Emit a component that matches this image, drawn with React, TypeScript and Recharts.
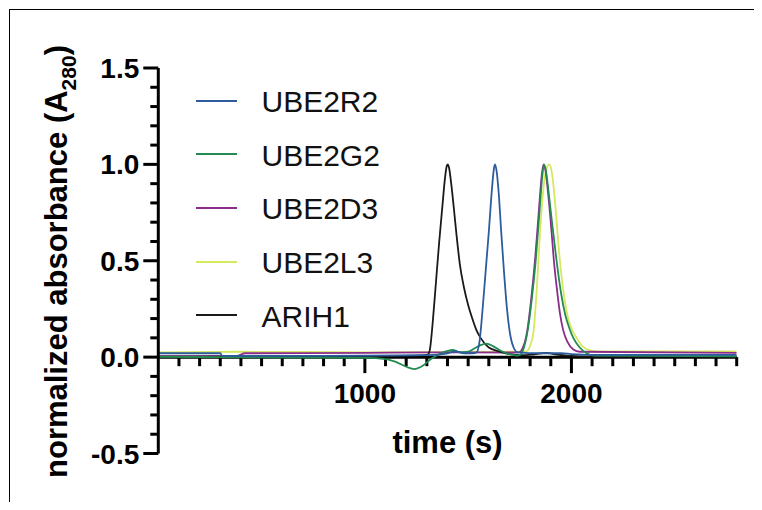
import React from "react";
import { LineChart, Line, XAxis, YAxis, ReferenceLine, Legend } from "recharts";

// time (s), normalized absorbance (A280)
const ube2r2: [number, number][] = [
  [0, 0.02], [300, 0.02], [310, 0.006], [600, 0.006], [1000, 0.008], [1300, 0.01],
  [1400, 0.02], [1440, 0.03], [1480, 0.02], [1520, 0.02], [1541, 0.025], [1555, 0.08],
  [1570, 0.25], [1585, 0.45], [1600, 0.65], [1615, 0.87], [1625, 0.98], [1630, 1.0],
  [1637, 0.97], [1648, 0.85], [1660, 0.65], [1673, 0.45], [1688, 0.25], [1703, 0.12],
  [1720, 0.05], [1740, 0.025], [1850, 0.02], [1950, 0.02], [2000, 0.016], [2100, 0.012],
  [2800, 0.012],
];

const ube2g2: [number, number][] = [
  [0, 0.002], [1000, -0.004], [1100, -0.01], [1150, -0.025], [1200, -0.05], [1240, -0.062],
  [1280, -0.045], [1320, -0.01], [1360, 0.015], [1400, 0.032], [1425, 0.037], [1460, 0.025],
  [1500, 0.028], [1530, 0.045], [1560, 0.062], [1590, 0.07], [1620, 0.057], [1660, 0.032],
  [1700, 0.015], [1735, 0.008], [1751, 0.012], [1770, 0.05], [1790, 0.15], [1810, 0.32],
  [1827, 0.5], [1845, 0.75], [1858, 0.93], [1867, 1.0], [1876, 0.97], [1890, 0.85],
  [1908, 0.68], [1928, 0.5], [1950, 0.33], [1970, 0.22], [1990, 0.15], [2009, 0.1],
  [2040, 0.05], [2074, 0.02], [2110, 0.008], [2800, 0.004],
];

const ube2d3: [number, number][] = [
  [0, 0.005], [380, 0.006], [420, 0.02], [1000, 0.022], [1300, 0.025], [1500, 0.025],
  [1700, 0.024], [1745, 0.025], [1765, 0.05], [1785, 0.13], [1805, 0.3], [1825, 0.52],
  [1843, 0.77], [1856, 0.94], [1865, 1.0], [1874, 0.97], [1888, 0.84], [1903, 0.66],
  [1915, 0.5], [1930, 0.35], [1944, 0.23], [1960, 0.14], [1980, 0.08], [2009, 0.04],
  [2040, 0.028], [2800, 0.022],
];

const ube2l3: [number, number][] = [
  [0, 0.025], [400, 0.028], [1000, 0.025], [1500, 0.026], [1783, 0.03], [1800, 0.06],
  [1816, 0.13], [1832, 0.35], [1848, 0.65], [1865, 0.88], [1880, 0.98], [1893, 1.0],
  [1903, 0.97], [1915, 0.87], [1930, 0.68], [1944, 0.5], [1960, 0.35], [1980, 0.22],
  [2000, 0.15], [2025, 0.1], [2050, 0.06], [2090, 0.035], [2130, 0.03], [2800, 0.03],
];

const arih1: [number, number][] = [
  [0, 0.002], [1000, 0.004], [1250, 0.008], [1300, 0.012], [1307, 0.015], [1315, 0.04],
  [1330, 0.2], [1345, 0.4], [1360, 0.6], [1375, 0.78], [1388, 0.93], [1396, 0.99],
  [1401, 1.0], [1408, 0.98], [1418, 0.9], [1430, 0.78], [1445, 0.62], [1460, 0.48],
  [1480, 0.36], [1500, 0.27], [1520, 0.2], [1540, 0.14], [1560, 0.1], [1600, 0.05],
  [1650, 0.03], [1700, 0.015], [1760, 0.01], [1820, 0.015], [1880, 0.022], [1920, 0.015],
  [1980, 0.008], [2100, 0.003], [2800, 0.003],
];

const yTicks = [
  -0.5, -0.4, -0.3, -0.2, -0.1, 0, 0.1, 0.2, 0.3, 0.4, 0.5,
  0.6, 0.7, 0.8, 0.9, 1.0, 1.1, 1.2, 1.3, 1.4, 1.5,
];
const xMinorTicks = [
  100, 200, 300, 400, 500, 600, 700, 800, 900, 1100, 1200, 1300, 1400,
  1500, 1600, 1700, 1800, 1900, 2100, 2200, 2300, 2400, 2500, 2600, 2700, 2800,
];
const xMajorTicks = [1000, 2000];

const series = [
  { name: "UBE2R2", points: ube2r2, color: "#2c5c9e" },
  { name: "UBE2G2", points: ube2g2, color: "#238a52" },
  { name: "UBE2D3", points: ube2d3, color: "#8b2c8c" },
  { name: "UBE2L3", points: ube2l3, color: "#d6e85e" },
  { name: "ARIH1", points: arih1, color: "#1a1a1a" },
];
// drawing order (last on top)
const drawOrder = ["UBE2L3", "UBE2D3", "ARIH1", "UBE2G2", "UBE2R2"];

const FONT = '"Liberation Sans", Arial, Helvetica, sans-serif';

function YTick(props: any) {
  const { x, y, payload } = props;
  const v = payload.value as number;
  const major = Math.abs(v * 2 - Math.round(v * 2)) < 1e-6;
  const len = major ? 15 : 8;
  return (
    <g>
      <line x1={x - len} x2={x} y1={y} y2={y} stroke="#000" strokeWidth={3} />
      {major && (
        <text
          x={x - 19}
          y={y}
          dy="0.36em"
          textAnchor="end"
          fontSize={28}
          fontWeight="bold"
          fill="#000"
          fontFamily={FONT}
        >
          {v.toFixed(1)}
        </text>
      )}
    </g>
  );
}

function renderLegend() {
  return (
    <div style={{ fontFamily: FONT }}>
      {series.map((s) => (
        <div key={s.name} style={{ display: "flex", alignItems: "center", height: 53.6 }}>
          <svg width={41} height={4} style={{ marginRight: 24.5 }}>
            <line x1={0} x2={41} y1={2} y2={2} stroke={s.color} strokeWidth={2} />
          </svg>
          <span style={{ fontSize: 30, lineHeight: 1, color: "#111", paddingTop: 3 }}>{s.name}</span>
        </div>
      ))}
    </div>
  );
}

export default function App() {
  const byName = Object.fromEntries(series.map((s) => [s.name, s]));
  return (
    <div style={{ position: "relative", width: 754, height: 494 }}>
      <div
        style={{
          position: "absolute",
          left: 1,
          top: 1,
          width: 753,
          height: 501,
          borderTop: "1px solid #000",
          borderLeft: "1px solid #000",
          boxSizing: "border-box",
        }}
      />
      <div style={{ position: "absolute", left: -8, top: -8 }}>
        <LineChart
          width={762}
          height={510}
          margin={{ top: 68, right: 25.3, bottom: 56.5, left: 98.3 }}
          style={{ fontFamily: FONT }}
        >
          <XAxis type="number" dataKey="t" domain={[0, 2800]} hide allowDataOverflow />
          <YAxis
            type="number"
            domain={[-0.5, 1.5]}
            ticks={yTicks}
            interval={0}
            width={60}
            tickSize={0}
            tickMargin={0}
            tickLine={false}
            tick={<YTick />}
            axisLine={{ stroke: "#000", strokeWidth: 3 }}
            allowDataOverflow
          />
          <ReferenceLine y={0} stroke="#000" strokeWidth={3} />
          {xMinorTicks.map((t) => (
            <ReferenceLine
              key={t}
              segment={[{ x: t, y: 0 }, { x: t, y: -0.047 }]}
              stroke="#000"
              strokeWidth={3}
            />
          ))}
          {xMajorTicks.map((t) => (
            <ReferenceLine
              key={t}
              segment={[{ x: t, y: 0 }, { x: t, y: -0.083 }]}
              stroke="#000"
              strokeWidth={3}
              label={(p: any) => {
                const vb = p.viewBox || {};
                return (
                  <text
                    x={vb.x + (vb.width || 0) / 2}
                    y={vb.y + (vb.height || 0) + 30}
                    textAnchor="middle"
                    fontSize={28}
                    fontWeight="bold"
                    fill="#000"
                    fontFamily={FONT}
                  >
                    {t}
                  </text>
                );
              }}
            />
          ))}
          {drawOrder.map((n) => {
            const s = byName[n];
            return (
              <Line
                key={n}
                name={n}
                data={s.points.map(([t, v]) => ({ t, v }))}
                dataKey="v"
                type="monotone"
                stroke={s.color}
                strokeWidth={1.8}
                dot={false}
                activeDot={false}
                isAnimationActive={false}
              />
            );
          })}
          <Legend
            layout="vertical"
            align="center"
            verticalAlign="middle"
            content={renderLegend}
            wrapperStyle={{ left: 196, top: 74, width: "auto", height: "auto" }}
          />
        </LineChart>
      </div>
      <svg
        width={762}
        height={510}
        style={{ position: "absolute", left: -8, top: -8, pointerEvents: "none" }}
      >
        <text
          x={447.5}
          y={453}
          textAnchor="middle"
          fontSize={31}
          fontWeight="bold"
          fill="#000"
          fontFamily={FONT}
        >
          time (s)
        </text>
        <text
          transform="translate(67, 261.5) rotate(-90)"
          textAnchor="middle"
          fontSize={31}
          fontWeight="bold"
          fill="#000"
          fontFamily={FONT}
        >
          normalized absorbance (A
          <tspan fontSize={21} dy={9}>280</tspan>
          <tspan dy={-9}>)</tspan>
        </text>
      </svg>
    </div>
  );
}
